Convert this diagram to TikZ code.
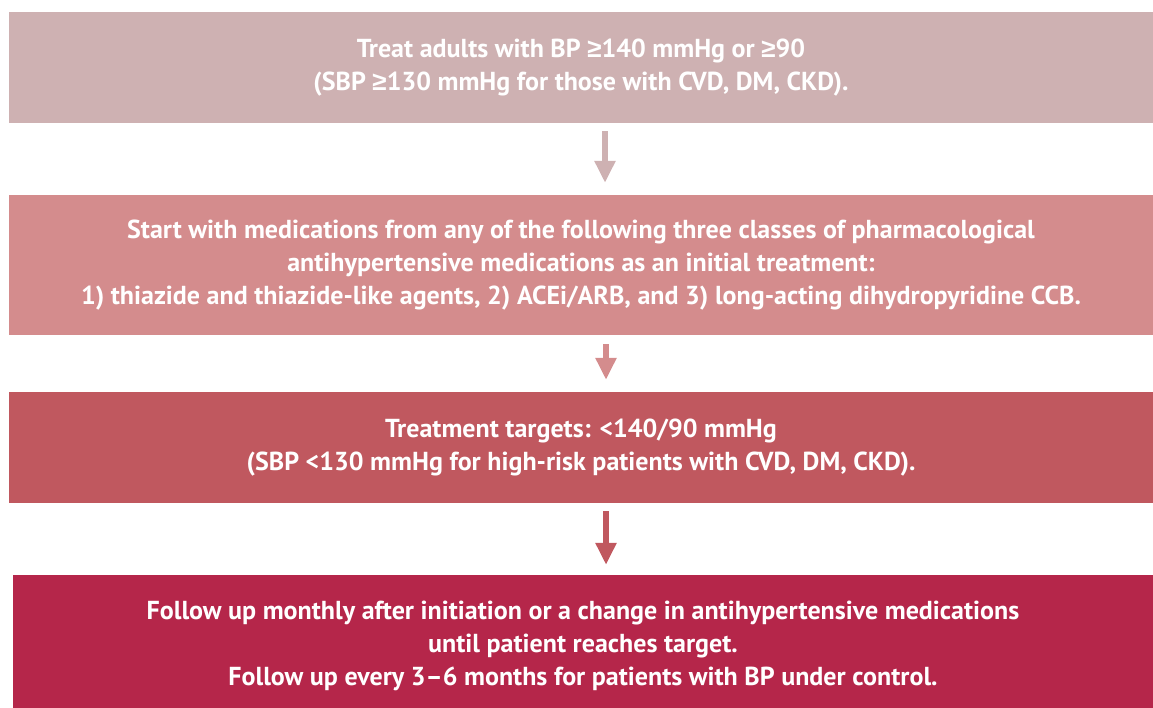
\documentclass[tikz,border=0pt]{standalone}
\usepackage{fontspec}
\setmainfont{PT Sans}
\newfontfamily\symf{Liberation Sans}
\newcommand{\geqs}{{\symf ≥}}
\usetikzlibrary{arrows.meta}
\definecolor{cA}{HTML}{CEB1B2}
\definecolor{cB}{HTML}{D48C8D}
\definecolor{cC}{HTML}{C0585F}
\definecolor{cD}{HTML}{B5264A}
\begin{document}
\begin{tikzpicture}[x=1pt,y=-1pt,
  box/.style={rectangle,inner sep=0pt,text=white,align=center,
    font=\bfseries\fontsize{26}{33}\selectfont},
  flow/.style={line width=6pt,-{Triangle[width=20pt,length=22pt]}}]
\path[use as bounding box] (0,0) rectangle (1153,708);
\node[box,fill=cA,minimum width=1144pt,minimum height=111pt] (b1) at (581,67.5)
  {Treat adults with BP \geqs140 mmHg or \geqs90\\(SBP \geqs130 mmHg for those with CVD, DM, CKD).};
\node[box,fill=cB,minimum width=1144pt,minimum height=140pt] (b2) at (581,265)
  {Start with medications from any of the following three classes of pharmacological\\antihypertensive medications as an initial treatment:\\1) thiazide and thiazide-like agents, 2) ACEi/ARB, and 3) long-acting dihydropyridine CCB.};
\node[box,fill=cC,minimum width=1144pt,minimum height=111pt] (b3) at (581,447.5)
  {Treatment targets: <140/90 mmHg\\(SBP <130 mmHg for high-risk patients with CVD, DM, CKD).};
\node[box,fill=cD,minimum width=1140pt,minimum height=142pt] (b4) at (583,646)
  {Follow up monthly after initiation or a change in antihypertensive medications\\until patient reaches target.\\Follow up every 3–6 months for patients with BP under control.};
\draw[flow,draw=cA,fill=cA,shorten <=8pt,shorten >=12pt] ([xshift=24pt]b1.south) -- ([xshift=24pt]b2.north);
\draw[flow,draw=cB,fill=cB,shorten <=9pt,shorten >=12pt] ([xshift=25pt]b2.south) -- ([xshift=25pt]b3.north);
\draw[flow,draw=cC,fill=cC,shorten <=8pt,shorten >=10pt] ([xshift=25pt]b3.south) -- ([xshift=23pt]b4.north);
\end{tikzpicture}
\end{document}
